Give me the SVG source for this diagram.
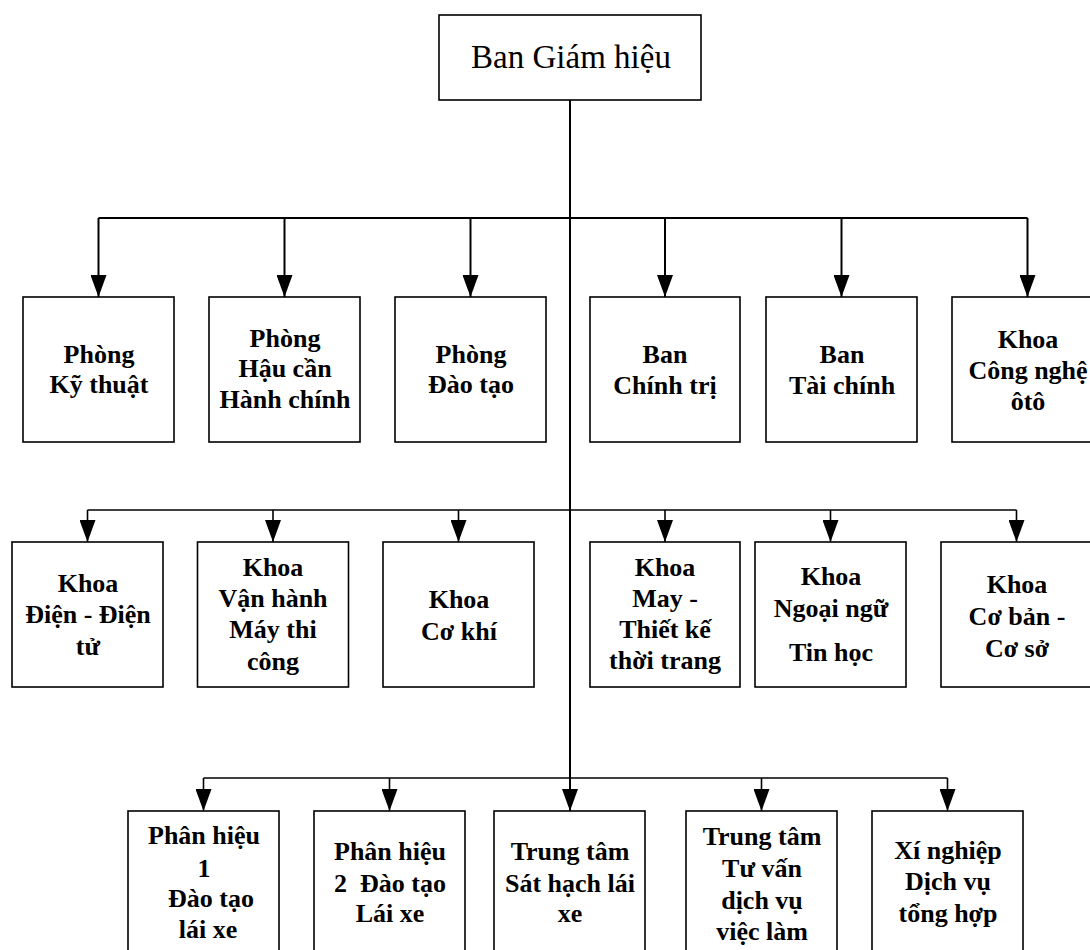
<svg xmlns="http://www.w3.org/2000/svg" width="1090" height="950" viewBox="0 0 1090 950">
  <style>
    .box { fill: #ffffff; stroke: #000000; stroke-width: 1.6; }
    .title { font-family: "Liberation Serif", "Times New Roman", serif; font-size: 33px; text-anchor: middle; fill: #000000; }
    .lbl { font-family: "Liberation Serif", "Times New Roman", serif; font-size: 26px; font-weight: bold; text-anchor: middle; fill: #000000; }
    .wire { fill: none; stroke: #000000; stroke-width: 2; }
    .wire-thin { fill: none; stroke: #000000; stroke-width: 1.6; }
  </style>
  <defs>
    <marker id="arrow" markerUnits="userSpaceOnUse" markerWidth="22" markerHeight="16" refX="22" refY="8" orient="auto" viewBox="0 0 22 16">
      <path d="M0,0 L22,8 L0,16 Z" fill="#000000"/>
    </marker>
  </defs>
  <rect width="1090" height="950" fill="#ffffff"/>

  <!-- connectors -->
  <g id="connectors">
    <!-- main trunk from the board down to the bottom row -->
    <path class="wire" d="M570,100 V811" marker-end="url(#arrow)"/>
    <!-- first level bus -->
    <path class="wire" d="M98.5,218 H1027.5"/>
    <path class="wire" d="M98.5,218 V297" marker-end="url(#arrow)"/>
    <path class="wire" d="M284.5,218 V297" marker-end="url(#arrow)"/>
    <path class="wire" d="M470.5,218 V297" marker-end="url(#arrow)"/>
    <path class="wire" d="M665,218 V297" marker-end="url(#arrow)"/>
    <path class="wire" d="M841.5,218 V297" marker-end="url(#arrow)"/>
    <path class="wire" d="M1027.5,218 V297" marker-end="url(#arrow)"/>
    <!-- second level bus -->
    <path class="wire-thin" d="M87.5,510 H1016.5"/>
    <path class="wire-thin" d="M87.5,510 V542" marker-end="url(#arrow)"/>
    <path class="wire-thin" d="M273,510 V542" marker-end="url(#arrow)"/>
    <path class="wire-thin" d="M458.5,510 V542" marker-end="url(#arrow)"/>
    <path class="wire-thin" d="M665,510 V542" marker-end="url(#arrow)"/>
    <path class="wire-thin" d="M830.5,510 V542" marker-end="url(#arrow)"/>
    <path class="wire-thin" d="M1016.5,510 V542" marker-end="url(#arrow)"/>
    <!-- third level bus -->
    <path class="wire-thin" d="M203.5,778 H947.5"/>
    <path class="wire-thin" d="M203.5,778 V811" marker-end="url(#arrow)"/>
    <path class="wire-thin" d="M389.5,778 V811" marker-end="url(#arrow)"/>
    <path class="wire-thin" d="M761.5,778 V811" marker-end="url(#arrow)"/>
    <path class="wire-thin" d="M947.5,778 V811" marker-end="url(#arrow)"/>
  </g>

  <!-- top node -->
  <g id="ban-giam-hieu">
    <rect class="box" x="439" y="15" width="262" height="85"/>
    <text class="title" x="571" y="68">Ban Giám hiệu</text>
  </g>

  <!-- first row -->
  <g id="phong-ky-thuat">
    <rect class="box" x="23" y="297" width="151" height="145"/>
    <text class="lbl" x="99" y="363">Phòng</text>
    <text class="lbl" x="99" y="393">Kỹ thuật</text>
  </g>
  <g id="phong-hau-can">
    <rect class="box" x="209" y="297" width="151" height="145"/>
    <text class="lbl" x="285" y="347">Phòng</text>
    <text class="lbl" x="285" y="377">Hậu cần</text>
    <text class="lbl" x="285" y="408">Hành chính</text>
  </g>
  <g id="phong-dao-tao">
    <rect class="box" x="395" y="297" width="151" height="145"/>
    <text class="lbl" x="471" y="363">Phòng</text>
    <text class="lbl" x="471" y="393">Đào tạo</text>
  </g>
  <g id="ban-chinh-tri">
    <rect class="box" x="590" y="297" width="150" height="145"/>
    <text class="lbl" x="665" y="363">Ban</text>
    <text class="lbl" x="665" y="394">Chính trị</text>
  </g>
  <g id="ban-tai-chinh">
    <rect class="box" x="766" y="297" width="151" height="145"/>
    <text class="lbl" x="842" y="363">Ban</text>
    <text class="lbl" x="842" y="394">Tài chính</text>
  </g>
  <g id="khoa-cong-nghe-oto">
    <rect class="box" x="952" y="297" width="151" height="145"/>
    <text class="lbl" x="1028" y="348">Khoa</text>
    <text class="lbl" x="1028" y="379">Công nghệ</text>
    <text class="lbl" x="1028" y="410">ôtô</text>
  </g>

  <!-- second row -->
  <g id="khoa-dien">
    <rect class="box" x="12" y="542" width="151" height="145"/>
    <text class="lbl" x="88" y="592">Khoa</text>
    <text class="lbl" x="88" y="623">Điện - Điện</text>
    <text class="lbl" x="88" y="655">tử</text>
  </g>
  <g id="khoa-van-hanh">
    <rect class="box" x="197.5" y="542" width="151" height="145"/>
    <text class="lbl" x="273" y="576">Khoa</text>
    <text class="lbl" x="273" y="607">Vận hành</text>
    <text class="lbl" x="273" y="638">Máy thi</text>
    <text class="lbl" x="273" y="670">công</text>
  </g>
  <g id="khoa-co-khi">
    <rect class="box" x="383" y="542" width="151" height="145"/>
    <text class="lbl" x="459" y="608">Khoa</text>
    <text class="lbl" x="459" y="640">Cơ khí</text>
  </g>
  <g id="khoa-may">
    <rect class="box" x="590" y="542" width="150" height="145"/>
    <text class="lbl" x="665" y="576">Khoa</text>
    <text class="lbl" x="665" y="607">May -</text>
    <text class="lbl" x="665" y="638">Thiết kế</text>
    <text class="lbl" x="665" y="669">thời trang</text>
  </g>
  <g id="khoa-ngoai-ngu">
    <rect class="box" x="755" y="542" width="151" height="145"/>
    <text class="lbl" x="831" y="585">Khoa</text>
    <text class="lbl" x="831" y="617">Ngoại ngữ</text>
    <text class="lbl" x="831" y="661">Tin học</text>
  </g>
  <g id="khoa-co-ban">
    <rect class="box" x="941" y="542" width="151" height="145"/>
    <text class="lbl" x="1017" y="593">Khoa</text>
    <text class="lbl" x="1017" y="625">Cơ bản -</text>
    <text class="lbl" x="1017" y="657">Cơ sở</text>
  </g>

  <!-- third row -->
  <g id="phan-hieu-1">
    <rect class="box" x="128" y="811" width="151" height="146"/>
    <text class="lbl" x="204" y="844">Phân hiệu</text>
    <text class="lbl" x="204" y="877">1</text>
    <text class="lbl" x="211" y="907">Đào tạo</text>
    <text class="lbl" x="208" y="938">lái xe</text>
  </g>
  <g id="phan-hieu-2">
    <rect class="box" x="314" y="811" width="151" height="146"/>
    <text class="lbl" x="390" y="860">Phân hiệu</text>
    <text class="lbl" x="390" y="892" xml:space="preserve">2  Đào tạo</text>
    <text class="lbl" x="390" y="922">Lái xe</text>
  </g>
  <g id="trung-tam-sat-hach">
    <rect class="box" x="494" y="811" width="151" height="146"/>
    <text class="lbl" x="570" y="860">Trung tâm</text>
    <text class="lbl" x="570" y="892">Sát hạch lái</text>
    <text class="lbl" x="570" y="922">xe</text>
  </g>
  <g id="trung-tam-tu-van">
    <rect class="box" x="686" y="811" width="151" height="146"/>
    <text class="lbl" x="762" y="845">Trung tâm</text>
    <text class="lbl" x="762" y="877">Tư vấn</text>
    <text class="lbl" x="762" y="909">dịch vụ</text>
    <text class="lbl" x="762" y="940">việc làm</text>
  </g>
  <g id="xi-nghiep-dich-vu">
    <rect class="box" x="872" y="811" width="151" height="146"/>
    <text class="lbl" x="948" y="859">Xí nghiệp</text>
    <text class="lbl" x="948" y="890">Dịch vụ</text>
    <text class="lbl" x="948" y="922">tổng hợp</text>
  </g>
</svg>
